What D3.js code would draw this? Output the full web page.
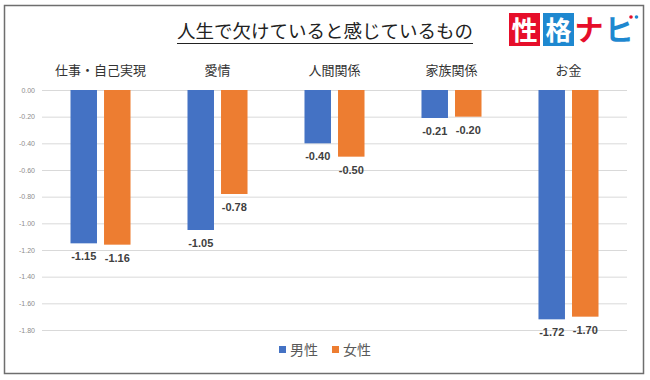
<!DOCTYPE html>
<html>
<head>
<meta charset="utf-8">
<script src="https://cdn.jsdelivr.net/npm/d3@7"></script>
<style>
  body { margin: 0; background: #fff; }
  svg { display: block; font-family: "Noto Sans CJK JP", "Noto Sans", sans-serif; }
</style>
</head>
<body>
<svg width="650" height="380"></svg>
<script>
const categories = ["仕事・自己実現", "愛情", "人間関係", "家族関係", "お金"];
const seriesNames = ["男性", "女性"];
const male = [-1.15, -1.05, -0.40, -0.21, -1.72];
const female = [-1.16, -0.78, -0.50, -0.20, -1.70];
const tickValues = [0, -0.2, -0.4, -0.6, -0.8, -1.0, -1.2, -1.4, -1.6, -1.8];
const colors = ["#4472C4", "#ED7D31"];

const svg = d3.select("svg");

// frame
svg.append("rect")
  .attr("x", 4.5).attr("y", 5.5)
  .attr("width", 639).attr("height", 368)
  .attr("fill", "#fff")
  .attr("stroke", "#6e6e6e")
  .attr("stroke-width", 1.5);

// title
const title = svg.append("text")
  .attr("x", 325).attr("y", 38)
  .attr("text-anchor", "middle")
  .attr("font-size", 18.5)
  .attr("fill", "#222")
  .text("人生で欠けていると感じているもの");
const tb = title.node().getBBox();
svg.append("line")
  .attr("x1", tb.x).attr("x2", tb.x + tb.width)
  .attr("y1", 43.5).attr("y2", 43.5)
  .attr("stroke", "#222").attr("stroke-width", 1.2);

// logo
const logo = svg.append("g");
logo.append("rect").attr("x", 509).attr("y", 13).attr("width", 31).attr("height", 33).attr("fill", "#E60E2A");
logo.append("rect").attr("x", 543).attr("y", 13).attr("width", 31).attr("height", 33).attr("fill", "#1E88D0");
logo.append("text").attr("x", 524.5).attr("y", 40).attr("text-anchor", "middle")
  .attr("font-size", 26).attr("font-weight", "bold").attr("fill", "#fff").text("性");
logo.append("text").attr("x", 558.5).attr("y", 40).attr("text-anchor", "middle")
  .attr("font-size", 26).attr("font-weight", "bold").attr("fill", "#fff").text("格");
logo.append("text").attr("x", 589).attr("y", 41).attr("text-anchor", "middle")
  .attr("font-size", 29).attr("font-weight", "bold").attr("fill", "#E60E2A").text("ナ");
logo.append("text").attr("x", 619).attr("y", 41).attr("text-anchor", "middle")
  .attr("font-size", 29).attr("font-weight", "bold").attr("fill", "#1E88D0").text("ヒ");
logo.append("circle").attr("cx", 631).attr("cy", 17).attr("r", 1.8).attr("fill", "#E60E2A");
logo.append("circle").attr("cx", 636.5).attr("cy", 17).attr("r", 1.8).attr("fill", "#1E88D0");

// scales
const x0 = d3.scaleBand()
  .domain(categories)
  .range([42, 627])
  .paddingInner(0.487)
  .paddingOuter(0.2436);

const x1 = d3.scaleBand()
  .domain(seriesNames)
  .range([0, x0.bandwidth()])
  .paddingInner(0.21);

const y = d3.scaleLinear()
  .domain([-1.8, 0])
  .range([330, 90]);

// y axis with gridlines
const yAxis = svg.append("g")
  .attr("transform", "translate(42,0)")
  .call(d3.axisLeft(y)
    .tickValues(tickValues)
    .tickSize(-585)
    .tickPadding(7)
    .tickFormat(d => d.toFixed(2)));
yAxis.select(".domain").remove();
yAxis.selectAll(".tick line").attr("stroke", "#d9d9d9").attr("stroke-width", 1);
yAxis.selectAll(".tick text")
  .attr("fill", "#8c8c8c")
  .attr("font-size", 7)
  .attr("font-family", "Liberation Sans, Arial, sans-serif");

// category labels at top
svg.append("g").selectAll("text")
  .data(categories)
  .join("text")
  .attr("x", d => x0(d) + x0.bandwidth() / 2)
  .attr("y", 75)
  .attr("text-anchor", "middle")
  .attr("font-size", 13)
  .attr("fill", "#333")
  .text(d => d);

// bars
const rows = categories.map((c, i) => ({ cat: c, vals: [male[i], female[i]] }));
const groups = svg.append("g").selectAll("g")
  .data(rows)
  .join("g")
  .attr("transform", d => `translate(${x0(d.cat)},0)`);

groups.selectAll("rect")
  .data(d => d.vals.map((v, j) => ({ s: seriesNames[j], v, j })))
  .join("rect")
  .attr("x", d => x1(d.s))
  .attr("y", y(0))
  .attr("width", x1.bandwidth())
  .attr("height", d => y(d.v) - y(0))
  .attr("fill", d => colors[d.j]);

groups.selectAll("text")
  .data(d => d.vals.map((v, j) => ({ s: seriesNames[j], v, j })))
  .join("text")
  .attr("x", d => x1(d.s) + x1.bandwidth() / 2)
  .attr("y", d => y(d.v) + 17)
  .attr("text-anchor", "middle")
  .attr("font-size", 11)
  .attr("font-weight", "bold")
  .attr("font-family", "Liberation Sans, Arial, sans-serif")
  .attr("fill", "#404040")
  .text(d => d.v.toFixed(2));

// legend
const legend = svg.append("g");
const legendX = [279, 332];
seriesNames.forEach((name, i) => {
  legend.append("rect")
    .attr("x", legendX[i]).attr("y", 346)
    .attr("width", 7).attr("height", 7)
    .attr("fill", colors[i]);
  legend.append("text")
    .attr("x", legendX[i] + 11).attr("y", 355)
    .attr("font-size", 14)
    .attr("fill", "#595959")
    .text(name);
});
</script>
</body>
</html>
